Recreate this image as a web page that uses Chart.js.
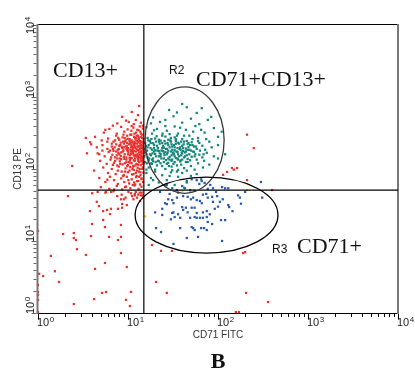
<!DOCTYPE html>
<html lang="en">
<head>
<meta charset="UTF-8">
<title>CD71 FITC / CD13 PE</title>
<script src="https://cdn.jsdelivr.net/npm/chart.js@4"></script>
<style>
    html, body { margin: 0; padding: 0; background: #fff; }
    #wrap { width: 415px; height: 372px; }
</style>
</head>
<body>
<div id="wrap"><canvas id="dotPlot" width="415" height="372"></canvas></div>
<script>
// axis range (fluorescence intensity, 4 decades)
const axisMin = 1;
const axisMax = 10000;
const decades = [1, 10, 100, 1000, 10000];
const decadeExp = ['0', '1', '2', '3', '4'];

// quadrant gates
const gateCD71 = 15;
const gateCD13 = 51;

// elliptical regions, bounds in intensity units
const r2Bounds = { x: [15.5, 117], y: [46, 1380] };
const r3Bounds = { x: [12, 464], y: [6.8, 77] };

// CD13+ / ungated events  [CD71, CD13]
const redEvents = [
    [13.3,750],[8.6,530],[10.2,450],[6.8,400],[3.4,270],[3.9,220],[4.8,160],[2.4,110],[5.4,320],[12.9,560],
    [9.5,470],[12.2,480],[11.6,420],[13.9,440],[7.6,430],[14.6,400],[11.0,620],
    [6.2,360],[7.5,310],[8.4,385],[9.1,330],[9.9,355],[10.6,300],[11.5,375],[12.3,320],[13.1,345],[13.9,310],
    [14.6,365],[8.9,300],[11.0,395],[13.5,390],[5.6,350],
    [4.3,280],[5.1,250],[6.0,265],[6.9,240],[7.4,290],[8.0,255],[8.7,275],[9.3,240],[9.8,290],[10.4,260],
    [11.1,235],[11.7,280],[12.4,250],[12.9,290],[13.6,245],[14.3,270],[14.8,235],[10.9,300],[8.3,232],[12.0,265],
    [3.8,235],[13.1,272],[7.8,270],
    [5.2,215],[5.9,190],[6.6,225],[7.1,200],[7.7,185],[8.2,215],[8.6,195],[9.0,225],[9.5,205],[9.9,185],
    [10.3,220],[10.8,200],[11.2,185],[11.7,215],[12.1,195],[12.6,225],[13.0,205],[13.4,185],[13.9,215],[14.3,195],
    [14.7,225],[6.3,180],[8.9,182],[10.6,230],[12.9,182],[14.5,183],[11.5,228],[7.4,220],[13.7,228],[9.7,210],
    [4.5,200],[11.9,205],
    [4.6,165],[5.5,150],[6.1,172],[6.7,158],[7.2,145],[7.8,168],[8.3,152],[8.8,175],[9.2,160],[9.6,145],
    [10.1,170],[10.5,155],[11.0,142],[11.4,165],[11.9,150],[12.3,175],[12.8,160],[13.2,145],[13.7,170],[14.1,155],
    [14.6,142],[14.8,168],[6.9,178],[9.9,178],[12.6,148],[10.8,163],[8.1,140],[13.5,158],[11.6,178],[7.5,155],
    [3.5,165],
    [4.9,130],[5.8,118],[6.4,135],[7.0,122],[7.6,112],[8.1,128],[8.7,116],[9.1,138],[9.6,124],[10.0,113],
    [10.5,133],[11.0,120],[11.5,110],[11.9,130],[12.4,118],[12.9,137],[13.3,124],[13.8,113],[14.2,133],[14.7,120],
    [10.7,140],[12.1,112],[8.4,137],[13.9,139],[6.8,114],
    [4.2,95],[5.3,105],[6.0,88],[6.6,100],[7.3,85],[7.9,108],[8.5,92],[9.0,82],[9.4,102],[10.0,90],
    [10.6,106],[11.1,84],[11.6,97],[12.2,88],[12.8,104],[13.2,92],[13.8,82],[14.4,100],[14.8,89],[9.8,110],
    [11.4,108],[7.7,95],[12.5,80],
    [4.8,75],[5.6,66],[6.3,78],[7.0,70],[7.7,62],[8.4,74],[9.1,66],[9.7,78],[10.3,63],[11.0,72],
    [11.7,65],[12.3,77],[13.0,68],[13.6,61],[14.2,74],[14.7,66],[8.8,80],[12.0,61],[5.9,71],
    [5.0,56],[6.2,53],[7.5,58],[8.6,52],[9.5,57],[10.6,54],[11.8,59],[13.1,53],[14.1,57],[7.0,52],[9.3,56],
    [9.4,250],[10.9,215],[12.7,205],[13.6,192],[14.4,210],[14.9,180],[11.3,172],[12.2,158],[13.0,130],[14.0,148],
    [10.2,125],[9.0,148],[11.8,240],[13.2,262],[14.2,240],[10.0,195],[8.5,205],[12.9,115],[14.5,118],[11.2,100],
    [13.5,100],[9.6,135],[7.9,190],[6.5,145],[12.0,140],[14.8,150],[13.8,200],[11.0,250],[12.5,290],[14.0,280],
    [9.2,270],[10.7,185],[8.0,160],[13.3,170],[14.6,130],[12.8,245],[10.4,143],[11.6,155],[7.2,130],[9.8,230],
    [14.8,200],[14.3,165],[13.9,128],[13.4,210],[12.9,152],[12.5,188],[12.0,228],[11.6,132],[11.2,205],[10.8,175],
    [10.4,245],[10.0,160],[9.6,190],[9.2,120],[8.8,240],[8.4,170],[8.0,210],[7.6,140],[7.2,250],[6.8,190],
    [14.9,260],[14.4,300],[13.7,330],[12.7,350],[11.8,310],[10.9,340],[14.6,105],[13.7,90],[12.6,95],[11.5,85],
    [10.4,95],[9.3,92],[14.1,72],[13.3,78],[12.6,68],[11.3,60],[10.1,70],[14.9,120],[14.0,175],[13.0,235],
    [12.2,270],[11.4,195],[10.6,123],[9.9,262],[9.0,200],[8.2,118],[7.4,175],[6.6,205],[5.9,240],[5.2,180],
    // below the CD13 gate
    [4.0,46],[5.6,47],[6.9,49],[8.5,44],[10.1,48],[11.9,45],[13.5,47],[14.5,43],[9.4,40],[12.6,40],[7.6,42],
    [14.2,47],[13.0,44],[12.2,48],[10.8,46],[14.7,40],[11.5,38],[13.6,36],
    [2.15,42],[4.5,35],[4.76,30.6],[3.78,26],[5.3,26],[5.85,27],[6.47,28],[6.3,23.7],[5.3,19.6],[3.98,17.2],
    [5.55,15.6],[8.35,16.7],[7.74,28],[8.6,29],[8.6,32.7],[9.7,31.6],[8.35,38],[9.0,38],[11.1,42],[11.9,43],
    [5.7,48],[6.5,48],[4.6,48],[13.9,43],
    [1.0,13.8],[1.9,12.5],[2.5,12.9],[2.5,11],[2.64,10.3],[3.88,11.7],[6.15,11.4],[7.74,10.3],[8.35,11.4],
    [2.71,7.7],[1.39,6.2],[3.41,6.4],[8.35,6.8],[5.55,4.95],[9.7,4.35],[4.3,4.1],[1.03,3.5],[1.14,3.26],
    [1.54,3.8],[1.71,2.7],[1.0,2.45],[1.0,1.96],[5.7,1.96],[5.14,1.9],[10.8,1.96],[1.0,1.78],[4.2,1.56],
    [9.5,1.52],[2.5,1.33],[10.5,1.25],[1.0,1.52],[1.0,1.03],
    // right of the CD71 gate
    [18.5,8.8],[23.3,7.3],[30.8,7.3],[190,6.8],[20.5,2.7],[27,1.9],[205,1.9],[360,1.42],[158,1.03],[171,1.03],
    [210,70],[400,51],[200,7],[210,300],[250,195],[163,103],[143,103],[126,91],[114,83],[150,98]
];

// R2: CD71+CD13+
const tealEvents = [
    [40,800],[66,700],[28.6,660],[32,540],[50,500],[77,480],[22.7,450],[40,440],[19,520],[58,600],
    [35,610],[45,720],[26,480],[18,430],[62,420],[84,530],
    [16,380],[18.5,310],[21,360],[24,290],[27,340],[30,270],[33,390],[36,310],[40,260],[44,350],
    [48,290],[53,330],[60,270],[71,320],[90,370],[16.5,270],[22,255],[29,305],[38,375],[56,395],
    [65,350],[100,280],[19.5,345],[26,395],[42,290],[34,260],[74,260],[110,330],
    [15.5,230],[16.5,200],[17.5,245],[18.5,185],[19.5,215],[20.5,240],[21.5,195],[22.5,225],[23.5,180],[24.5,210],
    [25.5,245],[26.5,190],[27.5,230],[29,200],[30,240],[31,185],[32.5,215],[34,245],[35.5,195],[37,225],
    [38.5,185],[40,210],[42,240],[44,192],[46,222],[48,185],[51,235],[54,205],[58,190],[62,230],
    [67,210],[72,185],[80,240],[100,215],[15.2,190],[17,215],[20,182],[23,248],[28,215],[33,182],
    [36,232],[41,195],[45,245],[52,215],[60,245],[85,200],[19,228],[25,198],[30.5,220],[39,240],[47,202],
    [15.5,170],[16.5,145],[17.5,160],[18.5,135],[19.5,175],[20.5,150],[21.5,130],[22.5,165],[23.5,140],[24.5,178],
    [25.5,155],[26.5,133],[27.5,168],[29,148],[30,175],[31,135],[32.5,160],[34,142],[35.5,172],[37,150],
    [38.5,132],[40,165],[42,145],[44,175],[46,138],[48,160],[51,148],[54,172],[58,135],[62,158],
    [67,145],[75,168],[90,150],[15.2,150],[17,132],[20,162],[23,150],[26,172],[28,140],[33,150],
    [36,135],[41,178],[45,155],[56,160],[18,155],[22,178],[30.5,155],[39,155],[49,132],[70,130],
    [100,140],[120,160],
    [15.5,125],[17,105],[18.5,118],[20,98],[22,128],[24,110],[26,100],[28,122],[30.5,108],[33,125],
    [36,97],[39,115],[42,103],[46,125],[50,110],[55,98],[60,120],[68,105],[80,115],[16,98],
    [21,112],[27,118],[35,112],[45,95],[19,128],[25,125],[31,96],[38,127],
    [16,88],[18,75],[20,92],[22,65],[24,82],[27,70],[30,90],[33,60],[36,78],[40,88],
    [45,68],[50,80],[17,60],[26,58],[42,55],[58,85],[19,70],[29,80],[35,92],[65,72],
    [16,160],[17.8,195],[19,140],[21,210],[22,150],[24,230],[25,165],[27,190],[29,135],[31,205],
    [32,170],[34,225],[36,160],[38,200],[43,170],[47,230],[50,180],[55,150],[16.8,250],[18,120],
    [23,120],[28,255],[33,275],[40,135],[20,265],[26,282],
    [15.8,210],[16.3,180],[17.2,140],[17.9,230],[18.7,165],[19.4,195],[20.3,125],[21.2,180],[22.1,240],[23.1,160],
    [24,195],[25,140],[26,225],[27,160],[28,180],[29.5,250],[30.5,130],[31.5,165],[33,200],[34.5,175],
    [35.5,140],[37.5,190],[39.5,170],[41.5,220],[43,150],[46,185],[49,215],[53,175],[57,205],[63,180],
    [16.2,120],[18.2,260],[20.8,285],[24.2,310],[28.5,110],[32,118],[35,290],[44,125],[52,260],[69,160]
];

// R3: CD71+
const blueEvents = [
    [27,60],[31,54],[35,51],[43,54],[49,51],[51,72],[58,70],[66,68],[71,64],[77,53],
    [88,54],[95,48],[111,56],[120,54],[130,54],[22.7,48],[29,45],[31,37],[32,33.5],[27,32.5],
    [25.8,33.5],[41,42],[46,41],[50,38],[53,40],[58,37],[63,36],[66,33.5],[77,40],[86,41],
    [88,35],[98,42],[105,35],[113,38],[130,31.6],[133,29.6],[167,43],[175,40],[310,40],[40,29.6],
    [32,25],[20,25],[24,23],[31,24.5],[33,21.5],[36,23.5],[41,27],[44,29],[46,25],[51,29],
    [55,29],[58,24.5],[68,25],[75,26],[81,23.5],[75,21.5],[38,21],[49,21],[55,21.5],[58,21],
    [63,21],[68,21],[108,19.5],[120,19.5],[20.5,15.1],[23.3,13.3],[38,15.1],[51,15.6],[53,15.1],[55,14.2],
    [65,15.1],[70,15.1],[75,14.2],[45,11],[60,11.4],[77,18.4],[86,17.2],[32,9.1],[111,10],
    [36,47],[40,58],[62,62],[55,50],[45,65],[74,45],[82,60],[35,40],[28,38],[92,28],
    [68,44],[24,28],[30,20],[145,26],[100,30],[180,33],[200,48],[300,66]
];

// events on the gate boundaries
const yellowEvents = [[49,50],[210,51],[15.5,22],[40,50]];

const sans = '"Liberation Sans", Arial, sans-serif';
const serif = '"Liberation Serif", "Times New Roman", serif';

function powerLabel(ctx, exp, x, y) {
    ctx.font = '11px ' + sans;
    ctx.fillText('10', x, y);
    const w = ctx.measureText('10').width;
    ctx.font = '8px ' + sans;
    ctx.fillText(exp, x + w + 0.5, y - 4);
}

function gateEllipse(ctx, xs, ys, b, color) {
    const x0 = xs.getPixelForValue(b.x[0]), x1 = xs.getPixelForValue(b.x[1]);
    const y0 = ys.getPixelForValue(b.y[0]), y1 = ys.getPixelForValue(b.y[1]);
    ctx.beginPath();
    ctx.ellipse((x0 + x1) / 2, (y0 + y1) / 2, Math.abs(x1 - x0) / 2, Math.abs(y1 - y0) / 2, 0, 0, Math.PI * 2);
    ctx.strokeStyle = color;
    ctx.lineWidth = 1.3;
    ctx.stroke();
}

// frame, log ticks, gates and text
const plotDecor = {
    id: 'plotDecor',
    afterDatasetsDraw(chart) {
        const { ctx, chartArea: a, scales: { x, y } } = chart;
        ctx.save();

        // frame
        ctx.lineWidth = 1;
        ctx.strokeStyle = '#000';
        ctx.beginPath();
        ctx.moveTo(a.left, a.top - 0.5); ctx.lineTo(a.right, a.top - 0.5);
        ctx.moveTo(a.left, a.bottom + 0.5); ctx.lineTo(a.right + 1, a.bottom + 0.5);
        ctx.stroke();
        ctx.lineWidth = 2;
        ctx.strokeStyle = '#777';
        ctx.beginPath();
        ctx.moveTo(a.right, a.top - 1); ctx.lineTo(a.right, a.bottom + 1);
        ctx.moveTo(a.left - 0.5, a.top - 1); ctx.lineTo(a.left - 0.5, a.bottom + 1);
        ctx.stroke();

        // minor and major ticks
        ctx.lineWidth = 1;
        for (let d = 0; d < decades.length; d++) {
            for (let m = 1; m <= 9; m++) {
                const v = decades[d] * m;
                if (v > axisMax) break;
                const len = m === 1 ? 5 : 3;
                const px = Math.round(x.getPixelForValue(v)) + 0.5;
                const py = Math.round(y.getPixelForValue(v)) + 0.5;
                ctx.strokeStyle = '#000';
                ctx.beginPath();
                ctx.moveTo(px, a.bottom + 1); ctx.lineTo(px, a.bottom + 1 + len);
                ctx.stroke();
                ctx.strokeStyle = '#666';
                ctx.beginPath();
                ctx.moveTo(a.left - 1.5, py); ctx.lineTo(a.left - 1.5 - len, py);
                ctx.stroke();
            }
        }

        // tick labels
        ctx.fillStyle = '#222';
        ctx.textAlign = 'left';
        ctx.textBaseline = 'alphabetic';
        decades.forEach((v, i) => {
            powerLabel(ctx, decadeExp[i], x.getPixelForValue(v) - 1, 326);
            const py = i === decades.length - 1 ? 34 : y.getPixelForValue(v) + 1;
            ctx.save();
            ctx.translate(34, py);
            ctx.rotate(-Math.PI / 2);
            powerLabel(ctx, decadeExp[i], 0, 0);
            ctx.restore();
        });

        // axis titles
        ctx.font = '10px ' + sans;
        ctx.fillStyle = '#333';
        ctx.textAlign = 'center';
        ctx.fillText('CD71 FITC', (a.left + a.right) / 2, 338);
        ctx.save();
        ctx.translate(21, (a.top + a.bottom) / 2);
        ctx.rotate(-Math.PI / 2);
        ctx.fillText('CD13 PE', 0, 0);
        ctx.restore();

        // quadrant gates
        ctx.strokeStyle = '#000';
        ctx.lineWidth = 1.2;
        const gx = x.getPixelForValue(gateCD71);
        const gy = y.getPixelForValue(gateCD13);
        ctx.beginPath();
        ctx.moveTo(gx, a.top); ctx.lineTo(gx, a.bottom);
        ctx.moveTo(a.left, gy); ctx.lineTo(a.right, gy);
        ctx.stroke();

        gateEllipse(ctx, x, y, r2Bounds, '#3a3a3a');
        gateEllipse(ctx, x, y, r3Bounds, '#000');

        // region labels
        ctx.fillStyle = '#111';
        ctx.textAlign = 'left';
        ctx.font = '22px ' + serif;
        ctx.fillText('CD13+', 53, 77);
        ctx.fillText('CD71+CD13+', 196, 86);
        ctx.fillText('CD71+', 297, 253);
        ctx.font = '12px ' + sans;
        ctx.fillText('R2', 169, 74);
        ctx.fillText('R3', 272, 253);
        ctx.font = 'bold 22px ' + serif;
        ctx.textAlign = 'center';
        ctx.fillText('B', 218, 368);

        ctx.restore();
    }
};

function events(data, color) {
    return {
        data: data.map(p => ({ x: p[0], y: p[1] })),
        backgroundColor: color,
        borderWidth: 0,
        pointStyle: 'rect',
        pointRadius: 1.6,
        clip: 4
    };
}

new Chart(document.getElementById('dotPlot'), {
    type: 'scatter',
    data: {
        datasets: [
            events(redEvents, '#e8302c'),
            events(tealEvents, '#13857a'),
            events(blueEvents, '#2858b0'),
            events(yellowEvents, '#e8d800')
        ]
    },
    options: {
        responsive: false,
        animation: false,
        events: [],
        layout: { padding: { left: 38, right: 17, top: 25, bottom: 59 } },
        plugins: { legend: { display: false }, tooltip: { enabled: false } },
        scales: {
            x: { type: 'logarithmic', min: axisMin, max: axisMax, display: false },
            y: { type: 'logarithmic', min: axisMin, max: axisMax, display: false }
        }
    },
    plugins: [plotDecor]
});
</script>
</body>
</html>
